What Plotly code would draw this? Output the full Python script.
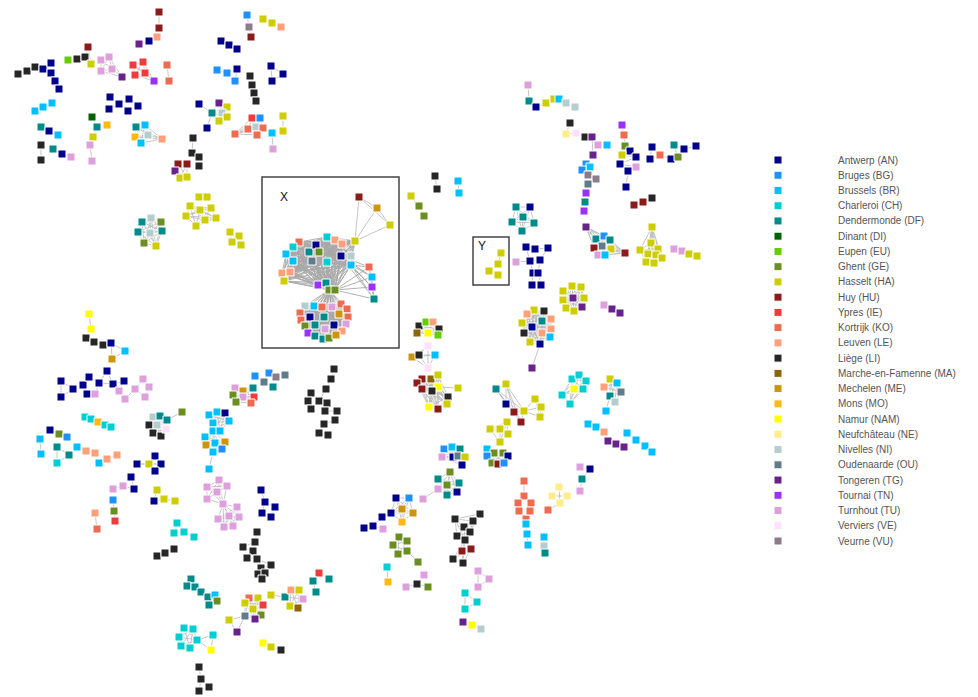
import plotly.graph_objects as go

# ---------------- legend / categories ----------------
city_codes = ["AN", "BG", "BR", "CH", "DF", "DI", "EU", "GE", "HA", "HU", "IE", "KO", "LE",
              "LI", "MA", "ME", "MO", "NAM", "NE", "NI", "OU", "TG", "TN", "TU", "VE", "VU"]
city_labels = ["Antwerp (AN)", "Bruges (BG)", "Brussels (BR)", "Charleroi (CH)", "Dendermonde (DF)",
               "Dinant (DI)", "Eupen (EU)", "Ghent (GE)", "Hasselt (HA)", "Huy (HU)", "Ypres (IE)",
               "Kortrijk (KO)", "Leuven (LE)", "Liège (LI)", "Marche-en-Famenne (MA)", "Mechelen (ME)",
               "Mons (MO)", "Namur (NAM)", "Neufchâteau (NE)", "Nivelles (NI)", "Oudenaarde (OU)",
               "Tongeren (TG)", "Tournai (TN)", "Turnhout (TU)", "Verviers (VE)", "Veurne (VU)"]
city_colors = ["#00008B", "#1E90FF", "#00BFFF", "#00CED1", "#008B8B", "#006400", "#66CD00", "#6B8E23",
               "#CDCD00", "#8B1A1A", "#EE3B3B", "#EE6A50", "#FFA07A", "#262626", "#8B6508", "#CD950C",
               "#FFB90F", "#FFFF00", "#FFEC8B", "#B4CDCD", "#607B8B", "#68228B", "#9B30FF", "#DDA0DD",
               "#FFE1FF", "#8B7B8B"]

# ---------------- network components: (layout x, layout y, city) ----------------
# link style per component: "chain" or "full"
components = {
    "c01": ("chain", [(159, 12, "HU"), (159, 28, "HU")]),
    "c02": ("chain", [(157, 37, "LE"), (149, 41, "AN"), (139, 44, "TG")]),
    "c03": ("chain", [(68, 60, "EU"), (77, 59, "LI"), (85, 57, "LI"), (88, 47, "HU"), (91, 64, "HA")]),
    "c04": ("chain", [(18, 74, "LI"), (27, 71, "LI"), (35, 67, "LI"), (43, 69, "AN"), (51, 63, "AN")]),
    "c05": ("chain", [(51, 73, "AN"), (55, 81, "AN"), (59, 89, "AN")]),
    "c06": ("full", [(101, 60, "TU"), (109, 57, "TU"), (112, 69, "TU"), (101, 71, "TU"), (122, 77, "TG")]),
    "c07": ("full", [(143, 62, "IE"), (133, 65, "IE"), (145, 73, "IE"), (135, 75, "IE"), (154, 81, "TN")]),
    "c08": ("chain", [(167, 65, "KO"), (169, 81, "KO")]),
    "c09": ("chain", [(247, 15, "BG"), (249, 27, "VU"), (251, 37, "HU")]),
    "c10": ("chain", [(263, 19, "HA"), (272, 23, "HA"), (281, 27, "LE")]),
    "c11": ("chain", [(221, 41, "AN"), (229, 45, "AN"), (237, 49, "AN")]),
    "c12": ("chain", [(217, 70, "BG"), (227, 73, "BG"), (237, 69, "AN"), (235, 81, "BG")]),
    "c13": ("full", [(271, 66, "AN"), (283, 74, "AN"), (272, 81, "AN")]),
    "c14": ("chain", [(250, 76, "LI"), (252, 85, "LI"), (254, 93, "LI"), (256, 101, "LI")]),
    "c15": ("chain", [(35, 111, "BR"), (43, 107, "BR"), (52, 103, "BR")]),
    "c16": ("chain", [(110, 97, "AN"), (119, 104, "AN"), (109, 109, "AN"), (119, 104, "AN"),
                      (129, 99, "AN"), (138, 106, "AN"), (128, 111, "AN")]),
    "c17": ("chain", [(41, 127, "DF"), (49, 131, "AN"), (58, 135, "BR")]),
    "c18": ("chain", [(41, 145, "LI"), (41, 160, "LI")]),
    "c19": ("chain", [(53, 149, "DF"), (62, 154, "AN"), (71, 157, "TU")]),
    "c20": ("chain", [(92, 117, "DI"), (97, 127, "DF"), (93, 137, "HA"), (90, 145, "TU"), (92, 161, "TU")]),
    "c21": ("chain", [(107, 125, "MO")]),
    "c22": ("full", [(136, 127, "DF"), (145, 125, "BR"), (135, 137, "MO"), (148, 135, "NI"),
                     (141, 143, "BR"), (162, 139, "LE")]),
    "c23": ("chain", [(199, 104, "AN"), (212, 113, "DF"), (207, 128, "AN")]),
    "c24": ("full", [(219, 103, "TG"), (227, 107, "HA"), (222, 113, "NI"), (227, 117, "HA"),
                     (219, 121, "HA"), (212, 113, "DF")]),
    "c25": ("full", [(252, 118, "IE"), (260, 118, "BG"), (248, 129, "KO"), (256, 127, "NI"),
                     (263, 128, "KO"), (257, 135, "KO"), (235, 134, "KO")]),
    "c26": ("chain", [(283, 116, "HA"), (283, 131, "HA")]),
    "c27": ("chain", [(272, 133, "BR"), (273, 149, "TU")]),
    "c28": ("chain", [(193, 138, "LI"), (192, 153, "LI"), (199, 157, "LI"), (199, 166, "LI")]),
    "c29": ("full", [(178, 164, "HU"), (187, 164, "HU"), (175, 171, "TG"), (180, 178, "HA"), (187, 177, "HA")]),
    "c30": ("chain", [(199, 197, "HA"), (207, 197, "HA")]),
    "c31": ("full", [(190, 206, "HA"), (200, 210, "HA"), (211, 208, "HA"), (186, 216, "HA"),
                     (205, 220, "HA"), (216, 218, "HA"), (196, 226, "HA")]),
    "c32": ("full", [(142, 222, "DF"), (151, 218, "NI"), (161, 222, "GE"), (138, 232, "DF"),
                     (150, 233, "NI"), (162, 231, "DF"), (144, 243, "GE"), (156, 246, "HA")]),
    "c33": ("full", [(230, 232, "HA"), (239, 236, "HA"), (232, 242, "HA"), (241, 245, "HA")]),
    # top centre / right
    "c34": ("chain", [(528, 85, "TU"), (529, 101, "DF"), (536, 107, "AN"), (546, 103, "HA"), (554, 99, "HA"),
                      (559, 99, "BR"), (566, 103, "NI"), (575, 107, "NI")]),
    "c35": ("chain", [(570, 123, "LI"), (566, 134, "NE"), (576, 133, "VE"), (585, 137, "LI"), (592, 137, "TG"),
                      (598, 145, "TU"), (607, 145, "BR")]),
    "c36": ("chain", [(592, 137, "TG"), (593, 155, "TG")]),
    "c37": ("chain", [(622, 125, "TN"), (624, 135, "KO"), (625, 146, "GE"), (630, 151, "AN"), (622, 155, "HA"),
                      (636, 157, "AN"), (620, 164, "AN"), (636, 167, "TU"), (628, 171, "AN"), (626, 187, "AN")]),
    "c38": ("chain", [(652, 147, "AN"), (650, 159, "AN"), (660, 155, "KO"), (671, 159, "AN"), (678, 157, "GE"),
                      (674, 145, "DF"), (684, 149, "AN"), (696, 146, "AN")]),
    "c39": ("chain", [(586, 164, "BG"), (590, 167, "BR"), (582, 170, "BG"), (588, 175, "VU"), (596, 179, "VU"),
                      (588, 184, "OU"), (586, 193, "TN"), (585, 202, "DF"), (584, 211, "TN")]),
    "c40": ("chain", [(634, 205, "HU"), (643, 202, "HU"), (652, 198, "LI")]),
    "c41": ("full", [(516, 207, "DF"), (530, 207, "AN"), (523, 217, "DF"), (512, 222, "DF"), (534, 223, "DF"),
                     (522, 231, "DF")]),
    "c42": ("full", [(586, 227, "TG"), (596, 239, "DF"), (604, 236, "BG"), (610, 240, "DF"), (602, 246, "OU"),
                     (594, 248, "HU"), (611, 249, "HA"), (598, 255, "TU"), (605, 255, "BR"), (625, 253, "HU")]),
    "c43": ("full", [(652, 227, "HA"), (651, 243, "HA"), (658, 249, "HA"), (640, 250, "HA"), (648, 254, "HA"),
                     (656, 255, "HA"), (662, 258, "HA"), (646, 262, "HA"), (654, 263, "HA")]),
    "c44": ("chain", [(674, 249, "TU"), (682, 251, "TU"), (689, 254, "HA"), (697, 256, "HA")]),
    "c45": ("chain", [(516, 262, "TU"), (530, 261, "AN"), (526, 247, "AN"), (535, 249, "AN"), (548, 248, "AN"),
                      (540, 260, "AN"), (530, 261, "AN"), (533, 273, "AN"), (532, 285, "AN")]),
    "c46": ("chain", [(540, 260, "AN"), (538, 273, "AN"), (541, 285, "AN")]),
    "c47": ("chain", [(501, 253, "HA"), (498, 264, "HA"), (489, 271, "HA"), (498, 275, "HA")]),
    "c48": ("full", [(572, 286, "HA"), (581, 287, "HA"), (563, 291, "HA"), (573, 298, "TG"), (584, 298, "HA"),
                     (563, 300, "HA"), (566, 308, "HA"), (574, 311, "HA"), (582, 307, "TG")]),
    "c49": ("full", [(534, 310, "HA"), (544, 311, "LI"), (527, 314, "LE"), (522, 323, "HA"), (532, 327, "AN"),
                     (542, 321, "DF"), (551, 319, "LE"), (542, 333, "LE"), (551, 329, "LE"), (524, 333, "LI"),
                     (530, 342, "HA"), (540, 344, "AN"), (550, 337, "BR")]),
    "c50": ("chain", [(540, 344, "AN"), (532, 368, "TG")]),
    "c51": ("chain", [(604, 305, "TU"), (612, 309, "TG"), (620, 313, "TG")]),
    "c52": ("chain", [(435, 176, "LI"), (437, 189, "LI")]),
    "c53": ("chain", [(458, 181, "BR"), (459, 193, "BR")]),
    "c54": ("chain", [(411, 196, "HA"), (419, 206, "GE"), (424, 216, "GE")]),
    # central column
    "c55": ("full", [(419, 326, "LI"), (426, 322, "EU"), (433, 322, "LE"), (439, 329, "LI"), (417, 333, "MA"),
                     (428, 333, "NAM"), (438, 335, "EU")]),
    "c56": ("full", [(428, 346, "VE"), (412, 357, "ME"), (419, 355, "LI"), (435, 355, "BR"), (428, 368, "VE")]),
    "c57": ("full", [(422, 379, "HU"), (431, 379, "MA"), (438, 375, "HA"), (417, 383, "HU"), (422, 389, "HU"),
                     (438, 387, "NAM"), (432, 391, "LI"), (448, 397, "LI"), (429, 407, "NAM"), (438, 409, "HU"),
                     (447, 404, "HA")]),
    "c58": ("chain", [(438, 387, "NAM"), (458, 388, "HA")]),
    "c59": ("full", [(496, 389, "DF"), (506, 384, "HA"), (506, 404, "AN"), (514, 412, "HU"), (521, 422, "HU"),
                     (524, 411, "HA")]),
    "c60": ("full", [(524, 411, "HA"), (535, 399, "HA"), (541, 407, "HA"), (540, 417, "HA")]),
    "c61": ("full", [(507, 422, "HA"), (490, 429, "HA"), (500, 429, "HA"), (508, 434, "HA"), (500, 442, "HA")]),
    "c62": ("full", [(572, 379, "CH"), (579, 375, "CH"), (586, 381, "CH"), (574, 389, "NAM"), (583, 389, "CH"),
                     (562, 395, "CH"), (570, 404, "CH")]),
    "c63": ("full", [(604, 387, "LE"), (610, 379, "HA"), (610, 396, "DF"), (617, 383, "BR"), (621, 392, "OU"),
                     (615, 402, "NI")]),
    "c64": ("chain", [(610, 396, "DF"), (606, 411, "BR")]),
    "c65": ("chain", [(588, 424, "BR"), (596, 427, "BR"), (604, 432, "LE")]),
    "c66": ("chain", [(608, 441, "TG"), (616, 444, "TG"), (624, 447, "TG")]),
    "c67": ("full", [(487, 449, "BR"), (494, 453, "GE"), (503, 453, "GE"), (508, 456, "AN"), (487, 456, "BG"),
                     (492, 463, "GE"), (498, 464, "HU"), (504, 463, "BG")]),
    "c68": ("full", [(444, 449, "BG"), (452, 447, "BR"), (460, 449, "DF"), (442, 457, "TU"), (453, 457, "AN"),
                     (458, 456, "OU"), (465, 457, "HA"), (462, 465, "AN")]),
    "c69": ("full", [(450, 472, "GE"), (447, 485, "GE"), (459, 483, "DF"), (438, 479, "DF"), (447, 495, "DF"),
                     (457, 492, "AN"), (438, 489, "TU")]),
    "c70": ("chain", [(438, 489, "TU"), (423, 499, "TU")]),
    "c71": ("chain", [(580, 467, "TU"), (590, 469, "AN"), (582, 479, "DF"), (580, 491, "TU")]),
    "c72": ("full", [(396, 498, "AN"), (409, 498, "BG"), (391, 513, "AN"), (402, 509, "ME"), (413, 513, "ME"),
                     (402, 522, "MO")]),
    "c73": ("chain", [(391, 513, "AN"), (382, 517, "AN"), (373, 526, "AN"), (364, 528, "AN")]),
    "c74": ("chain", [(373, 526, "AN"), (383, 529, "TU")]),
    "c75": ("full", [(399, 537, "GE"), (407, 541, "GE"), (393, 545, "GE"), (407, 551, "GE"), (398, 554, "GE")]),
    "c76": ("chain", [(407, 551, "GE"), (418, 562, "GE")]),
    "c77": ("chain", [(387, 567, "CH"), (388, 582, "MO")]),
    "c78": ("chain", [(424, 575, "TU"), (417, 584, "LI"), (406, 587, "TU")]),
    "c79": ("chain", [(417, 584, "LI"), (428, 587, "GE")]),
    "c80": ("full", [(480, 514, "LI"), (473, 521, "LI"), (464, 527, "LI"), (455, 519, "LI"), (470, 532, "LI"),
                     (457, 536, "LI"), (465, 540, "LI")]),
    "c81": ("full", [(465, 540, "LI"), (462, 551, "HU"), (471, 549, "HU"), (453, 559, "LI"), (463, 563, "LI")]),
    "c82": ("full", [(478, 571, "TU"), (489, 579, "TU"), (478, 587, "TU")]),
    "c83": ("full", [(465, 593, "CH"), (477, 602, "CH"), (465, 609, "CH")]),
    "c84": ("chain", [(463, 622, "TG"), (472, 625, "NAM"), (481, 629, "NI")]),
    "c85": ("chain", [(524, 481, "KO"), (524, 496, "KO"), (518, 503, "KO"), (519, 511, "KO"), (526, 519, "KO"),
                      (526, 524, "BR"), (527, 534, "BR"), (528, 545, "BR")]),
    "c86": ("chain", [(524, 496, "KO"), (531, 503, "KO"), (530, 511, "KO"), (526, 519, "KO")]),
    "c87": ("chain", [(544, 537, "BR"), (544, 546, "NI"), (545, 553, "DF")]),
    "c88": ("full", [(559, 487, "NE"), (552, 496, "NE"), (567, 496, "NE"), (560, 503, "NE")]),
    "c89": ("chain", [(560, 503, "NE"), (548, 510, "KO")]),
    "c90": ("chain", [(627, 433, "BR"), (636, 440, "BR"), (645, 446, "BR"), (652, 452, "BR")]),
    # left lower
    "c91": ("chain", [(89, 314, "NAM"), (91, 329, "NAM")]),
    "c92": ("chain", [(86, 338, "LI"), (94, 342, "LI"), (103, 345, "LI"), (111, 343, "AN"), (125, 351, "BR"),
                      (112, 359, "ME"), (111, 343, "AN")]),
    "c93": ("full", [(61, 381, "AN"), (73, 389, "AN"), (61, 397, "AN")]),
    "c94": ("chain", [(87, 394, "AN"), (83, 385, "AN"), (89, 377, "AN"), (99, 383, "AN"), (107, 371, "AN"),
                      (113, 384, "AN"), (99, 383, "AN"), (95, 394, "TU")]),
    "c95": ("chain", [(113, 384, "AN"), (124, 381, "AN"), (119, 391, "TU"), (125, 399, "TU"), (135, 389, "TU"),
                      (143, 379, "TU"), (149, 387, "TU"), (145, 397, "TU"), (135, 389, "TU")]),
    "c96": ("chain", [(85, 417, "CH"), (91, 419, "CH"), (98, 422, "MO"), (105, 425, "CH"), (111, 427, "CH")]),
    "c97": ("full", [(153, 417, "NI"), (160, 416, "DF"), (167, 420, "DF"), (149, 425, "LI"), (157, 425, "NI"),
                     (153, 433, "LI"), (161, 436, "LI"), (166, 429, "VE")]),
    "c98": ("chain", [(167, 420, "DF"), (182, 412, "GE")]),
    "c99": ("chain", [(50, 430, "AN"), (59, 434, "GE"), (67, 437, "BG")]),
    "d01": ("chain", [(40, 439, "BR"), (41, 454, "BR")]),
    "d02": ("full", [(57, 447, "DF"), (69, 455, "DF"), (57, 463, "CH")]),
    "d03": ("chain", [(77, 447, "BR"), (86, 451, "LE"), (95, 453, "LE")]),
    "d04": ("chain", [(99, 463, "BR"), (107, 459, "LE"), (117, 455, "LE")]),
    "d05": ("chain", [(155, 456, "AN"), (149, 464, "HA"), (137, 464, "AN"), (149, 464, "HA"), (161, 464, "AN"),
                      (149, 464, "HA"), (155, 471, "AN")]),
    "d06": ("chain", [(131, 477, "AN"), (134, 489, "AN"), (123, 486, "TU"), (113, 489, "TU")]),
    "d07": ("chain", [(157, 490, "HA"), (154, 501, "AN"), (164, 499, "HA"), (175, 501, "HA")]),
    "d08": ("chain", [(113, 500, "BG"), (114, 511, "GE"), (115, 521, "IE")]),
    "d09": ("chain", [(95, 513, "LE"), (97, 529, "KO")]),
    "d10": ("full", [(177, 523, "CH"), (174, 533, "CH"), (184, 532, "CH")]),
    "d11": ("chain", [(184, 532, "CH"), (194, 537, "CH")]),
    "d12": ("chain", [(157, 556, "LI"), (165, 553, "LI"), (174, 549, "LI")]),
    "d13": ("chain", [(191, 579, "DF"), (187, 586, "DF"), (195, 587, "DF"), (201, 592, "DF"), (208, 597, "DF"),
                      (215, 595, "BR"), (217, 601, "GE"), (209, 605, "DF"), (208, 597, "DF")]),
    "d14": ("chain", [(255, 376, "BG"), (264, 382, "OU"), (269, 373, "BG"), (276, 377, "VU"), (285, 375, "OU")]),
    "d15": ("chain", [(264, 382, "OU"), (273, 387, "DF")]),
    "d16": ("full", [(253, 388, "DF"), (235, 388, "TU"), (243, 391, "ME"), (233, 395, "GE"), (243, 397, "TU"),
                     (254, 397, "IE"), (236, 402, "GE"), (251, 403, "KO")]),
    "d17": ("chain", [(334, 369, "LI"), (331, 379, "LI"), (326, 389, "LI"), (319, 401, "LI"), (311, 393, "LI"),
                      (308, 401, "LI"), (311, 409, "LI"), (319, 401, "LI"), (327, 403, "LI"), (325, 411, "LI"),
                      (337, 411, "LI"), (335, 420, "LI"), (324, 424, "LI"), (319, 433, "LI"), (328, 435, "LI")]),
    "d18": ("full", [(209, 415, "BR"), (217, 412, "BR"), (225, 413, "AN"), (229, 421, "BR"), (213, 423, "BR"),
                     (213, 431, "BR"), (220, 431, "BR")]),
    "d19": ("full", [(205, 437, "BR"), (215, 443, "BR"), (225, 442, "ME"), (206, 445, "ME"), (213, 452, "BR"),
                     (222, 449, "BG"), (213, 431, "BR")]),
    "d20": ("chain", [(213, 452, "BR"), (209, 469, "BR")]),
    "d21": ("full", [(219, 480, "TU"), (207, 487, "TU"), (217, 492, "TU"), (227, 486, "TU"), (207, 499, "TU"),
                     (223, 504, "TU")]),
    "d22": ("full", [(223, 504, "TU"), (237, 507, "TU"), (229, 516, "TU"), (239, 517, "TU"), (218, 519, "TU"),
                     (233, 526, "TU"), (224, 527, "TU")]),
    "d23": ("chain", [(261, 490, "AN"), (265, 502, "AN"), (275, 507, "AN"), (271, 517, "AN"), (262, 513, "AN"),
                      (265, 502, "AN")]),
    "d24": ("chain", [(257, 532, "LI"), (255, 542, "LI"), (243, 547, "LI"), (253, 551, "LI"), (247, 558, "LI"),
                      (257, 559, "LI"), (253, 551, "LI"), (255, 542, "LI")]),
    "d25": ("full", [(257, 559, "LI"), (271, 565, "LI"), (261, 568, "LI"), (258, 574, "LI"), (265, 573, "LI"),
                     (262, 579, "LI")]),
    "d26": ("chain", [(319, 573, "IE"), (313, 581, "DF"), (316, 592, "DF")]),
    "d27": ("chain", [(319, 573, "IE"), (329, 579, "DF")]),
    "d28": ("full", [(249, 598, "KO"), (245, 603, "HA"), (258, 598, "HA"), (263, 605, "IE"), (253, 609, "HA"),
                     (245, 616, "OU"), (261, 615, "GE"), (255, 619, "TG")]),
    "d29": ("full", [(245, 616, "OU"), (229, 620, "HA"), (237, 632, "TG")]),
    "d30": ("chain", [(271, 595, "HA"), (285, 597, "DF")]),
    "d31": ("full", [(285, 597, "DF"), (291, 590, "LE"), (299, 590, "HA"), (303, 599, "TU"), (290, 606, "HA"),
                     (298, 608, "MA")]),
    "d32": ("full", [(184, 628, "CH"), (193, 629, "CH"), (179, 637, "CH"), (197, 640, "CH"), (181, 646, "CH"),
                     (190, 648, "CH")]),
    "d33": ("chain", [(197, 640, "CH"), (213, 635, "CH"), (211, 650, "NAM"), (197, 640, "CH")]),
    "d34": ("chain", [(263, 643, "NAM"), (271, 647, "HA"), (281, 650, "LI")]),
    "d35": ("chain", [(199, 667, "LI"), (201, 679, "LI"), (209, 687, "LI"), (199, 691, "LI"), (201, 679, "LI")]),
    # component X
    "x1": ("full", [(359, 197, "HU"), (377, 208, "ME"), (390, 225, "HA"), (355, 241, "HA")]),
    "x2": ("full", [(299, 242, "KO"), (293, 247, "CH"), (309, 252, "DF"), (316, 245, "AN"), (327, 237, "CH"),
                    (335, 240, "LE"), (342, 244, "LE"), (341, 256, "AN"), (351, 256, "NI"), (319, 252, "GE"),
                    (286, 254, "BR"), (293, 261, "BR"), (312, 261, "OU"), (327, 262, "CH"), (351, 265, "BR"),
                    (282, 273, "LE"), (290, 272, "LE"), (284, 281, "HA"), (318, 285, "TN"), (326, 283, "DF"),
                    (329, 290, "GE"), (335, 290, "GE"), (355, 241, "HA")]),
    "x3": ("full", [(351, 265, "BR"), (369, 267, "KO"), (372, 277, "BR"), (372, 287, "TN"), (374, 299, "DF"),
                    (335, 290, "GE"), (341, 256, "AN")]),
    "x4": ("full", [(305, 306, "NI"), (314, 306, "BR"), (322, 307, "KO"), (332, 307, "TU"), (341, 304, "KO"),
                    (347, 309, "KO"), (300, 313, "KO"), (310, 317, "AN"), (324, 317, "DF"), (339, 314, "ME"),
                    (348, 317, "KO"), (301, 320, "KO"), (305, 326, "GE"), (315, 325, "DF"), (325, 329, "TU"),
                    (334, 325, "AN"), (346, 324, "TU"), (342, 331, "LE"), (308, 333, "TN"), (315, 336, "DF"),
                    (323, 339, "DF"), (329, 338, "GE"), (336, 335, "ME"), (329, 290, "GE")]),
}

# ---------------- build figure ----------------
color_of = dict(zip(city_codes, city_colors))
fig = go.Figure()

dense = {"x2", "x3", "x4"}
light_x, light_y, dense_x, dense_y = [], [], [], []
nx, ny, nc = [], [], []
seen = set()
for name, (mode, pts) in components.items():
    ex, ey = (dense_x, dense_y) if name in dense else (light_x, light_y)
    if mode == "full":
        for i in range(len(pts)):
            for j in range(i + 1, len(pts)):
                ex += [pts[i][0], pts[j][0], None]
                ey += [pts[i][1], pts[j][1], None]
    else:
        for i in range(len(pts) - 1):
            ex += [pts[i][0], pts[i + 1][0], None]
            ey += [pts[i][1], pts[i + 1][1], None]
    for (x, y, c) in pts:
        if (x, y) in seen:
            continue
        seen.add((x, y))
        nx.append(x)
        ny.append(y)
        nc.append(color_of[c])

fig.add_trace(go.Scatter(x=light_x, y=light_y, mode="lines",
                         line=dict(color="#b8b8b8", width=0.8), hoverinfo="skip", showlegend=False))
fig.add_trace(go.Scatter(x=dense_x, y=dense_y, mode="lines",
                         line=dict(color="#a8a8a8", width=0.9), hoverinfo="skip", showlegend=False))
fig.add_trace(go.Scatter(x=nx, y=ny, mode="markers",
                         marker=dict(symbol="square", size=8, color=nc, line=dict(color="white", width=1)),
                         hoverinfo="skip", showlegend=False))

# legend drawn on the layout coordinates
leg_top, leg_step = 160, 15.24
leg_y = [leg_top + i * leg_step for i in range(len(city_codes))]
fig.add_trace(go.Scatter(x=[778] * len(city_codes), y=leg_y, mode="markers",
                         marker=dict(symbol="square", size=8, color=city_colors,
                                     line=dict(color="white", width=1)),
                         hoverinfo="skip", showlegend=False))
for yy, lab in zip(leg_y, city_labels):
    fig.add_annotation(x=836, y=yy, text=lab, showarrow=False, xanchor="left", yanchor="middle",
                       font=dict(family="Liberation Sans, Arial, sans-serif", size=10, color="#555555"))

# boxes X and Y
fig.add_shape(type="rect", x0=262, y0=177, x1=399, y1=348, line=dict(color="#444444", width=1.5))
fig.add_shape(type="rect", x0=473, y0=237, x1=509, y1=285, line=dict(color="#444444", width=1.5))
fig.add_annotation(x=284, y=197, text="X", showarrow=False,
                   font=dict(family="Liberation Sans, Arial, sans-serif", size=12, color="#111111"))
fig.add_annotation(x=482, y=246, text="Y", showarrow=False,
                   font=dict(family="Liberation Sans, Arial, sans-serif", size=12, color="#111111"))

# page body has an 8px margin: the figure is 8px smaller and its ranges start at 8
fig.update_xaxes(range=[8, 978], visible=False, fixedrange=True)
fig.update_yaxes(range=[697, 8], visible=False, fixedrange=True)
fig.update_layout(width=970, height=689, margin=dict(l=0, r=0, t=0, b=0),
                  plot_bgcolor="white", paper_bgcolor="white")
fig.write_html("out.html")
